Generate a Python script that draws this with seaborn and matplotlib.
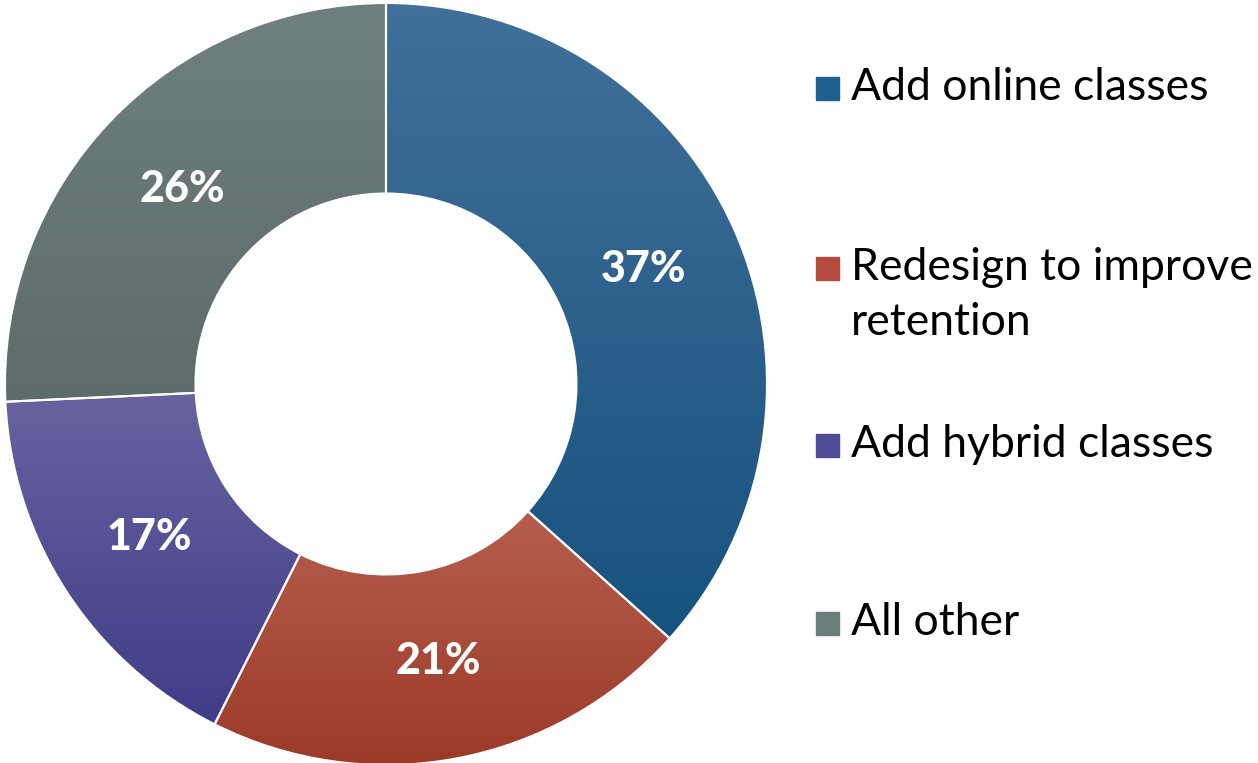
import numpy as np
import matplotlib
matplotlib.use("Agg")
import matplotlib.pyplot as plt
import seaborn as sns
from matplotlib.colors import LinearSegmentedColormap
from matplotlib.patches import Rectangle

categories = ["Add online classes", "Redesign to improve\nretention",
              "Add hybrid classes", "All other"]
shares = [37, 21, 17, 26]
top_colors = ["#41709a", "#b65e4e", "#68639f", "#6f807e"]
bottom_colors = ["#17527e", "#9c3a28", "#403c88", "#5d6b6b"]
legend_colors = ["#1f5f8f", "#b34a3e", "#4f4b95", "#6a7d7b"]

sns.set_theme(style="white")
plt.rcParams['font.family'] = ['Lato', 'DejaVu Sans']

W, H = 1258, 763
fig = plt.figure(figsize=(W / 100, H / 100), dpi=100)
# donut: centre at (386, 384) px, radius 381 px
ax = fig.add_axes([5 / W, -2 / H, 762 / W, 762 / H])

wedges, texts, autotexts = ax.pie(
    shares, startangle=90, counterclock=False,
    autopct='%.0f%%', pctdistance=0.74,
    wedgeprops=dict(width=0.5, edgecolor='white', linewidth=1.5, facecolor='none'),
    textprops=dict(color='white', fontsize=31, fontweight='black'))

# vertical gradient in each wedge
grad = np.linspace(0, 1, 256).reshape(-1, 1)
for w, c_top, c_bot in zip(wedges, top_colors, bottom_colors):
    w.set_zorder(3)
    ext = w.get_path().get_extents()
    cmap = LinearSegmentedColormap.from_list("g", [c_top, c_bot])
    im = ax.imshow(grad, cmap=cmap, extent=[ext.x0, ext.x1, ext.y0, ext.y1],
                   origin='upper', aspect='auto', zorder=2)
    im.set_clip_path(w)
for t in autotexts:
    t.set_zorder(4)

ax.set_xlim(-1, 1)
ax.set_ylim(-1, 1)
ax.set_aspect('equal')
ax.axis('off')

# legend on the right (baseline of first line of each entry, px from top)
baselines = [100, 280, 457, 635]
line_gap = 55
for lab, col, yb in zip(categories, legend_colors, baselines):
    fig.patches.append(Rectangle((816 / W, 1 - yb / H), 23 / W, 23 / H,
                                 transform=fig.transFigure, color=col))
    # matplotlib puts the baseline of the last line at y
    y_last = yb + line_gap * lab.count('\n')
    fig.text(851 / W, 1 - y_last / H, lab, fontsize=32, color='black',
             va='baseline', ha='left', linespacing=1.42)

fig.savefig("out.png", dpi=100)
